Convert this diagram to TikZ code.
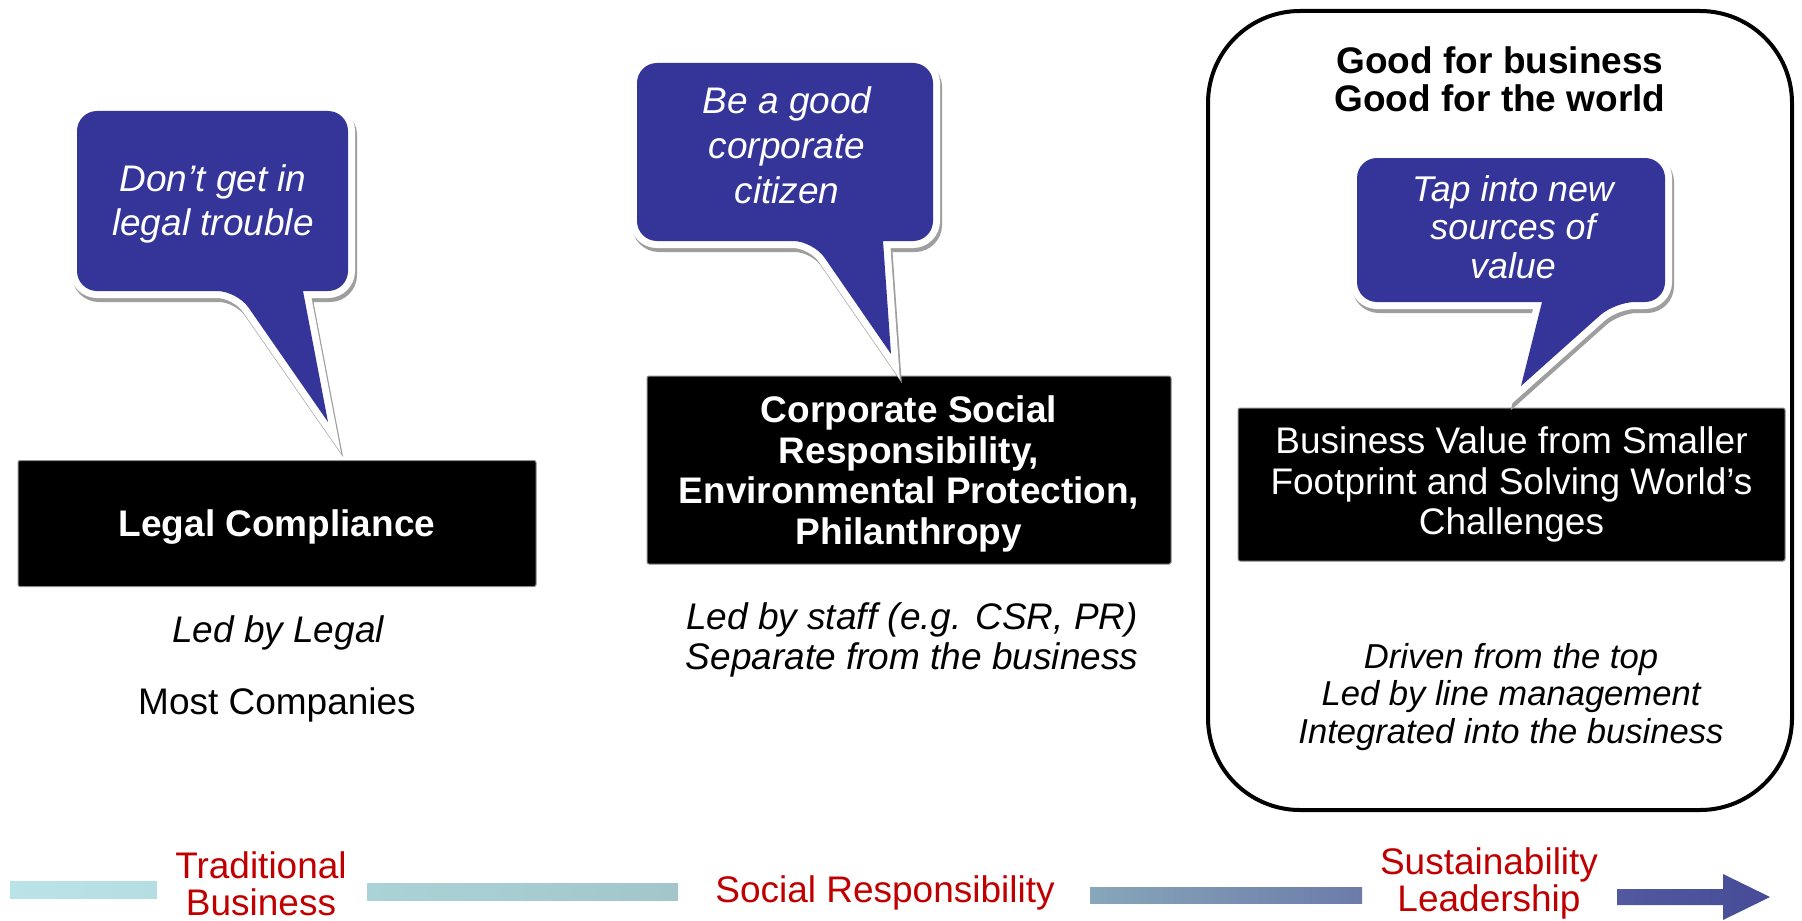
\documentclass[tikz,border=0pt]{standalone}
\usepackage{fontspec}
\setmainfont{Liberation Sans}

\definecolor{talkblue}{RGB}{53,53,153}
\definecolor{stagered}{RGB}{192,0,0}

\tikzset{every picture/.style={line width=0.75pt}}
\tikzset{
  talkshadow/.style={fill=black!38, draw=black!38, line width=7pt, line join=miter},
  talkrim/.style={fill=white, draw=white, line width=7pt, line join=miter},
  talk/.style={fill=talkblue},
  talktext/.style={text=white, align=center, font=\itshape\fontsize{18.5}{22}\selectfont},
  blackbox/.style={fill=black, draw=black!45, line width=0.5pt, rounded corners=1pt, text=white, align=center, inner sep=0pt},
  notetext/.style={align=center, font=\itshape\fontsize{18.5}{20}\selectfont},
  stagetext/.style={text=stagered, align=center, font=\fontsize{18.5}{18.5}\selectfont}
}

\begin{document}
\begin{tikzpicture}[x=0.5pt,y=0.5pt,yscale=-1,xscale=1]
	\useasboundingbox (0,0) rectangle (1802,920);

	%Rounded Rect [id:frame]
	\draw [line width=2pt, rounded corners=46pt] (1208,11) rectangle (1792,810) ;

	%Shape: Black boxes
	\node [blackbox, minimum width=259pt, minimum height=63pt, text depth=0pt, font=\bfseries\fontsize{18.5}{20}\selectfont] (legal) at (277,523.5) {Legal Compliance};
	\node [blackbox, minimum width=262pt, minimum height=94pt, text depth=0pt, font=\bfseries\fontsize{18.5}{20.2}\selectfont] (csr) at (909,470) {Corporate Social\\Responsibility,\\Environmental Protection,\\Philanthropy};
	\node [blackbox, minimum width=273.5pt, minimum height=76.5pt, font=\fontsize{18.5}{20.2}\selectfont] (value) at (1511.5,484.5) {Business Value from Smaller\\Footprint and Solving World’s\\Challenges};

	%Callout: shadows
	\begin{scope}[shift={(2,4)}]
	\path [talkshadow] (328,422) -- (303,291) [rounded corners=10pt] -- (348,291) -- (348,111) -- (77,111) -- (77,291) -- (237,291) [sharp corners] -- cycle ;
	\path [talkshadow] (891,354) -- (883,241) [rounded corners=10pt] -- (933,241) -- (933,63) -- (637,63) -- (637,241) -- (813,241) [sharp corners] -- cycle ;
	\path [talkshadow] (1521,386) -- (1542,302) [rounded corners=10pt] -- (1357,302) -- (1357,158) -- (1665,158) -- (1665,302) -- (1615,302) [sharp corners] -- cycle ;
	\end{scope}
	%Callout: white rims
	\path [talkrim] (328,422) -- (303,291) [rounded corners=10pt] -- (348,291) -- (348,111) -- (77,111) -- (77,291) -- (237,291) [sharp corners] -- cycle ;
	\path [talkrim] (891,354) -- (883,241) [rounded corners=10pt] -- (933,241) -- (933,63) -- (637,63) -- (637,241) -- (813,241) [sharp corners] -- cycle ;
	\path [talkrim] (1521,386) -- (1542,302) [rounded corners=10pt] -- (1357,302) -- (1357,158) -- (1665,158) -- (1665,302) -- (1615,302) [sharp corners] -- cycle ;
	%Callout [id:legaltalk]
	\path [talk] (328,422) -- (303,291) [rounded corners=10pt] -- (348,291) -- (348,111) -- (77,111) -- (77,291) -- (237,291) [sharp corners] -- cycle ;
	%Callout [id:citizentalk]
	\path [talk] (891,354) -- (883,241) [rounded corners=10pt] -- (933,241) -- (933,63) -- (637,63) -- (637,241) -- (813,241) [sharp corners] -- cycle ;
	%Callout [id:valuetalk]
	\path [talk] (1521,386) -- (1542,302) [rounded corners=10pt] -- (1357,302) -- (1357,158) -- (1665,158) -- (1665,302) -- (1615,302) [sharp corners] -- cycle ;

	% Text Node
	\draw (213,204) node [talktext] (troubletext) {Don’t get in\\legal trouble};
	% Text Node
	\draw (787,145.5) node [talktext, font=\itshape\fontsize{18.5}{22.5}\selectfont] (citizentext) {Be a good\\corporate\\citizen};
	% Text Node
	\draw (1513,227) node [talktext, font=\itshape\fontsize{17.9}{19.3}\selectfont] (sourcetext) {Tap into new\\sources of\\value};

	% Text Node
	\draw (1500,79) node [align=center, font=\bfseries\fontsize{18.5}{19}\selectfont] (goodtext) {Good for business\\Good for the world};
	% Text Node
	\draw (278,633) node [notetext] (legalled) {Led by Legal};
	% Text Node
	\draw (277,705) node [font=\fontsize{18.5}{20}\selectfont] (mostco) {Most Companies};
	% Text Node
	\draw (912,640) node [notetext] (staffled) {Led by staff (e.g. CSR, PR)\\Separate from the business};
	% Text Node
	\draw (1511,697) node [notetext, font=\itshape\fontsize{17.3}{18.9}\selectfont] (topled) {Driven from the top\\Led by line management\\Integrated into the business};

	%Bottom progression bar
	\shade [left color={rgb,255:red,186;green,227;blue,232}, right color={rgb,255:red,180;green,222;blue,226}] (10,881) rectangle (157,898) ;
	\shade [left color={rgb,255:red,170;green,211;blue,214}, right color={rgb,255:red,162;green,198;blue,202}] (367,883) rectangle (678,900) ;
	\shade [left color={rgb,255:red,135;green,167;blue,186}, right color={rgb,255:red,108;green,123;blue,169}] (1090,887) rectangle (1362,903) ;
	\shade [left color={rgb,255:red,82;green,89;blue,159}, right color={rgb,255:red,71;green,75;blue,152}] (1617,889) -- (1723,889) -- (1723,874) -- (1770,897) -- (1723,920) -- (1723,905) -- (1617,905) -- cycle ;

	% Text Node
	\draw (261,884) node [stagetext] (traditional) {Traditional\\Business};
	% Text Node
	\draw (885,892.5) node [stagetext] (social) {Social Responsibility};
	% Text Node
	\draw (1489,883) node [stagetext] (leadership) {Sustainability\\Leadership};

\end{tikzpicture}
\end{document}
